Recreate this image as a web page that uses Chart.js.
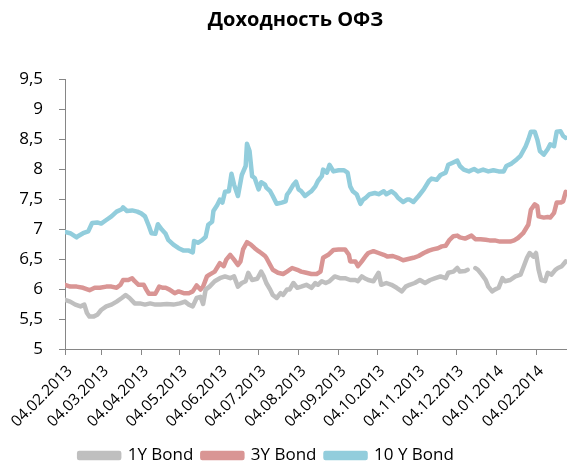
<!DOCTYPE html>
<html><head><meta charset="utf-8">
<script src="https://cdn.jsdelivr.net/npm/chart.js@4.4.1/dist/chart.umd.min.js"></script>
<style>html,body{margin:0;padding:0;background:#fff}#wrap{width:567px;height:464px;position:relative}</style>
</head><body><div id="wrap"><canvas id="c"></canvas></div>
<script>
const titleText = 'Доходность ОФЗ';
const startDate = '04.02.2013';
const tickLabels = ['04.02.2013','04.03.2013','04.04.2013','04.05.2013','04.06.2013','04.07.2013','04.08.2013','04.09.2013','04.10.2013','04.11.2013','04.12.2013','04.01.2014','04.02.2014'];
const yTicks = [5,5.5,6,6.5,7,7.5,8,8.5,9,9.5];
const seriesNames = ['1Y Bond','3Y Bond','10 Y Bond'];
const seriesColors = ['#BFBFBF','#D99594','#92CDDC'];

// days since 04.02.2013
const days1Y = [0,4,8,12,15,17,19,22,25,28,32,36,40,44,47,50,54,58,62,66,70,74,79,84,89,93,96,99,102,105,107,109,112,116,120,124,128,131,134,137,140,142,145,149,152,154,156,159,161,164,167,169,172,174,177,180,183,187,191,194,196,199,202,205,209,213,217,221,225,227,230,233,235,239,243,245,249,253,257,261,264,267,271,275,279,283,287,291,295,297,301,304,306,310,312,315,318,320,323,326,328,331,333,336,339,341,345,349,353,355,358,360,363,365,367,369,372,374,377,380,382,385,388];
const values1Y = [5.82,5.79,5.74,5.71,5.74,5.60,5.54,5.54,5.57,5.65,5.71,5.74,5.79,5.85,5.90,5.85,5.76,5.76,5.74,5.76,5.74,5.74,5.75,5.74,5.76,5.79,5.74,5.71,5.85,5.87,5.75,5.99,6.04,6.13,6.18,6.21,6.18,6.21,6.04,6.10,6.13,6.27,6.15,6.17,6.29,6.21,6.10,5.99,5.90,5.85,5.93,5.90,5.99,5.99,6.10,6.02,6.04,6.07,6.02,6.10,6.07,6.13,6.10,6.13,6.21,6.18,6.18,6.15,6.15,6.13,6.21,6.17,6.15,6.13,6.27,6.07,6.10,6.07,6.02,5.96,6.04,6.07,6.10,6.15,6.10,6.15,6.18,6.21,6.18,6.27,6.29,6.35,6.29,6.30,6.32,null,6.35,6.32,6.24,6.15,6.04,5.96,5.99,6.02,6.18,6.13,6.15,6.21,6.24,6.35,6.52,6.60,6.54,6.60,6.32,6.15,6.13,6.27,6.24,6.32,6.35,6.38,6.46];

const days3Y = [0,4,9,14,19,23,27,32,36,40,43,45,49,52,54,57,61,63,65,70,73,76,78,81,85,88,92,96,99,102,105,107,110,112,116,120,123,125,128,131,134,136,138,141,144,147,150,152,155,156,159,161,165,169,172,176,180,183,187,191,195,198,200,204,208,212,217,220,221,225,227,230,233,235,239,243,247,250,254,258,262,266,270,274,278,282,285,289,292,295,298,301,304,306,310,315,318,322,326,329,333,337,341,345,348,351,355,359,361,364,366,367,371,374,376,379,381,384,386,388];
const values3Y = [6.07,6.04,6.04,6.02,5.98,6.02,6.02,6.04,6.04,6.02,6.07,6.15,6.15,6.18,6.13,6.07,6.07,5.99,5.92,5.92,6.04,6.02,6.02,5.99,5.93,5.96,5.93,5.93,5.96,6.06,5.99,6.04,6.21,6.24,6.29,6.43,6.38,6.49,6.57,6.49,6.40,6.46,6.66,6.78,6.74,6.68,6.63,6.60,6.55,6.52,6.40,6.32,6.27,6.25,6.29,6.35,6.32,6.29,6.27,6.25,6.25,6.29,6.52,6.57,6.65,6.66,6.66,6.57,6.46,6.46,6.38,6.46,6.55,6.60,6.63,6.60,6.57,6.54,6.55,6.52,6.48,6.50,6.52,6.55,6.60,6.64,6.66,6.68,6.71,6.72,6.82,6.88,6.89,6.86,6.84,6.89,6.83,6.83,6.82,6.81,6.81,6.79,6.79,6.79,6.81,6.85,6.93,7.07,7.32,7.41,7.38,7.21,7.19,7.20,7.19,7.27,7.44,7.44,7.46,7.62];

const days10Y = [0,4,9,10,14,18,21,25,28,32,36,40,44,45,48,52,56,59,62,65,67,70,72,75,78,80,84,88,92,96,99,100,103,106,109,111,114,115,118,120,122,124,127,129,131,134,137,140,141,143,145,147,150,152,155,156,159,161,164,168,171,172,174,177,179,181,183,186,189,191,194,196,199,200,203,205,208,212,216,219,221,223,226,229,231,233,236,240,243,247,249,253,256,258,262,265,267,270,274,278,282,284,288,291,295,297,300,304,306,309,313,317,320,324,328,332,336,340,342,346,350,353,357,359,361,364,366,368,371,374,376,379,381,384,386,388];
const values10Y = [6.95,6.93,6.86,6.88,6.93,6.96,7.10,7.11,7.09,7.15,7.21,7.29,7.33,7.36,7.30,7.31,7.29,7.26,7.21,7.05,6.93,6.92,7.08,6.99,6.92,6.82,6.74,6.68,6.64,6.64,6.61,6.80,6.77,6.81,6.87,7.07,7.12,7.30,7.40,7.49,7.44,7.62,7.63,7.92,7.74,7.55,7.90,8.05,8.42,8.30,7.88,7.85,7.66,7.78,7.74,7.69,7.63,7.55,7.42,7.44,7.46,7.57,7.63,7.74,7.79,7.66,7.63,7.55,7.60,7.63,7.71,7.80,7.88,7.99,7.94,8.07,7.96,7.98,7.98,7.94,7.71,7.63,7.58,7.42,7.49,7.52,7.58,7.60,7.58,7.63,7.58,7.63,7.58,7.52,7.45,7.49,7.49,7.45,7.55,7.66,7.80,7.84,7.82,7.90,7.94,8.07,8.10,8.14,8.05,7.99,7.96,8.00,7.96,7.99,7.96,7.98,7.96,7.96,8.05,8.09,8.16,8.22,8.38,8.49,8.62,8.62,8.49,8.30,8.24,8.33,8.41,8.38,8.62,8.63,8.55,8.52];

function parseDMY(s){const p=s.split('.');return Date.UTC(+p[2],+p[1]-1,+p[0]);}
const t0 = parseDMY(startDate);
const tickDays = tickLabels.map(s => Math.round((parseDMY(s)-t0)/86400000));
function pts(d,v){return d.map((x,i)=>({x:x,y:v[i]}));}

const FONT = 'Open Sans';
const AXIS = '#868686';

const shiftPlugin = {
  id:'shift',
  afterLayout(chart){
    const t = chart.titleBlock; if(t){t.left += 12; t.right += 12;}
    const l = chart.legend; if(l){l.left -= 17; l.right -= 17; l.top += 10; l.bottom += 10;}
  }
};

new Chart(document.getElementById('c'), {
  type:'line',
  data:{datasets:[
    {label:seriesNames[0], data:pts(days1Y,values1Y), borderColor:seriesColors[0], backgroundColor:seriesColors[0]},
    {label:seriesNames[1], data:pts(days3Y,values3Y), borderColor:seriesColors[1], backgroundColor:seriesColors[1]},
    {label:seriesNames[2], data:pts(days10Y,values10Y), borderColor:seriesColors[2], backgroundColor:seriesColors[2]}
  ]},
  options:{
    responsive:true, maintainAspectRatio:false, animation:false, devicePixelRatio:1,
    layout:{padding:0},
    elements:{line:{borderWidth:4.5, tension:0, borderCapStyle:'round', borderJoinStyle:'round'}, point:{radius:0, hoverRadius:0}},
    spanGaps:false,
    plugins:{
      tooltip:{enabled:false},
      title:{display:true, text:titleText, color:'#000', font:{family:FONT, size:20, weight:'bold'}, padding:{top:8, bottom:47}},
      legend:{position:'bottom', labels:{color:'#000', font:{family:FONT, size:17}, boxWidth:40, boxHeight:5, padding:9}}
    },
    scales:{
      x:{type:'linear', min:0, max:389,
        afterBuildTicks(s){s.ticks = tickDays.map(v=>({value:v}));},
        afterFit(s){s.height = 79; s.paddingLeft = 0; s.paddingRight = 0;},
        grid:{display:true, drawOnChartArea:false, drawTicks:true, tickLength:6, color:AXIS},
        border:{display:true, color:AXIS, width:1},
        ticks:{autoSkip:false, maxRotation:45, minRotation:45, color:'#000', font:{family:FONT, size:15.5}, padding:7, labelOffset:5,
          callback:(v,i)=> tickLabels[i]}
      },
      y:{min:5, max:9.5,
        afterBuildTicks(s){s.ticks = yTicks.map(v=>({value:v}));},
        afterFit(s){s.width = 65;},
        grid:{display:true, drawOnChartArea:false, drawTicks:true, tickLength:6, color:AXIS},
        border:{display:true, color:AXIS, width:1},
        ticks:{color:'#000', font:{family:FONT, size:17}, padding:16,
          callback:(v)=> String(v).replace('.',',')}
      }
    }
  },
  plugins:[shiftPlugin]
});
</script>
</body></html>
